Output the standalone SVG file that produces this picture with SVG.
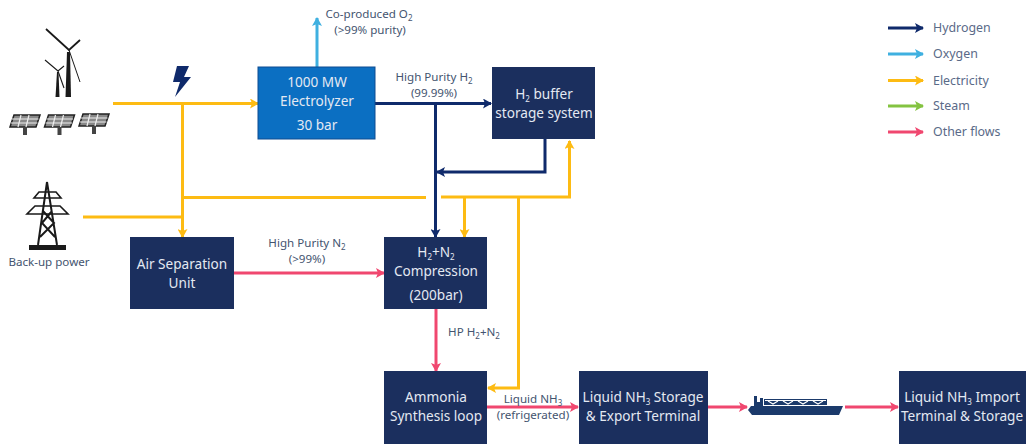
<svg xmlns="http://www.w3.org/2000/svg" width="1026" height="444" viewBox="0 0 1026 444">
<style>
text{font-family:"Noto Sans","Open Sans","Liberation Sans",sans-serif;text-anchor:middle}
.box{font-size:13.6px;fill:#e4e9f2}
.lab{font-size:11.6px;fill:#44546f}
.leg{font-size:12.4px;fill:#5a6a88;text-anchor:start}
.s{font-size:8px}
.c{fill:none;stroke-width:3}
.h{stroke:#0f2a6b;marker-end:url(#mh)}
.o{stroke:#3fb0e0;marker-end:url(#mo)}
.e{stroke:#fdbb13;marker-end:url(#me)}
.en{stroke:#fdbb13}
.g{stroke:#84c341;marker-end:url(#mg)}
.p{stroke:#f0476f;marker-end:url(#mp)}
.ic{fill:#1a1a1a}
.ln{stroke:#1a1a1a;fill:none}
</style>
<defs>
<marker id="mh" markerUnits="userSpaceOnUse" markerWidth="9" markerHeight="10" refX="8" refY="5" orient="auto"><path d="M0 0L9 5L0 10L2 5Z" fill="#0f2a6b"/></marker>
<marker id="mo" markerUnits="userSpaceOnUse" markerWidth="9" markerHeight="10" refX="8" refY="5" orient="auto"><path d="M0 0L9 5L0 10L2 5Z" fill="#3fb0e0"/></marker>
<marker id="me" markerUnits="userSpaceOnUse" markerWidth="9" markerHeight="10" refX="8" refY="5" orient="auto"><path d="M0 0L9 5L0 10L2 5Z" fill="#fdbb13"/></marker>
<marker id="mg" markerUnits="userSpaceOnUse" markerWidth="9" markerHeight="10" refX="8" refY="5" orient="auto"><path d="M0 0L9 5L0 10L2 5Z" fill="#84c341"/></marker>
<marker id="mp" markerUnits="userSpaceOnUse" markerWidth="9" markerHeight="10" refX="8" refY="5" orient="auto"><path d="M0 0L9 5L0 10L2 5Z" fill="#f0476f"/></marker>
<g id="panel"><path d="M4 0H30L26 12H0Z" fill="#888" stroke="#222" stroke-width="1.5"/><path d="M2 4H28.500M1 8H27.500M11 0L8 12M19 0L16 12" stroke="#eee" stroke-width="1.2"/><rect x="13" y="12" width="4" height="8" fill="#444"/></g>
</defs>

<g id="connectors">
<path class="c e" d="M113 103.500H258"/>
<path class="c e" d="M182.500 103.500V237"/>
<path class="c en" d="M83 217H182"/>
<path class="c en" d="M183 197.500H426"/>
<path class="c e" d="M441 197H569.500V141"/>
<path class="c e" d="M464.500 197V237"/>
<path class="c e" d="M518.500 197V388H488"/>
<path class="c o" d="M317 67V18"/>
<path class="c h" d="M375 103.500H491"/>
<path class="c h" d="M435.500 103.500V237"/>
<path class="c h" d="M545 139V172H437"/>
<path class="c p" d="M234 273H384"/>
<path class="c p" d="M436 309V371"/>
<path class="c p" d="M487 407H578"/>
<path class="c p" d="M708 407H747"/>
<path class="c p" d="M845 407H898"/>
</g>

<g id="wind-solar">
<path class="ic" d="M65.500 97L67 52H70L71 97Z"/>
<path class="ic" d="M55.500 97L57 72H58.500L59.500 97Z"/>
<path class="ln" stroke-width="1.8" d="M46 29L69 50L80 40"/>
<path class="ln" stroke-width="1" d="M69 50L80 82"/>
<path class="ln" stroke-width="1.1" d="M45 60L58 71L64 66M58 71L64 88"/>
<use href="#panel" x="10" y="115"/>
<use href="#panel" x="44.500" y="115"/>
<use href="#panel" x="79" y="114"/>
</g>
<g id="lightning"><path d="M177 66H189L184 77H191L175 97L180 82H173Z" fill="#0f2a6b"/></g>
<g id="pylon">
<rect x="29" y="245" width="37" height="5" fill="#1a1a1a"/>
<path class="ln" stroke-width="2" d="M47 182L38 245M47 182L57 245M43 211L54 223L40 237M52 211L42 223L55 237"/>
<path class="ln" stroke-width="1.6" d="M34 198H61L56 192H39ZM27 214H68L60 206H35Z"/>
<text class="lab" x="49" y="266">Back-up power</text>
</g>

<g id="electrolyzer"><rect x="258" y="67" width="117" height="72" fill="#0b6fc2" stroke="#0f4c91"/>
<text class="box" x="317" y="87">1000 MW</text><text class="box" x="317" y="106">Electrolyzer</text><text class="box" x="317" y="130">30 bar</text></g>
<g id="buffer"><rect x="492" y="67" width="103" height="72" fill="#1b2f5e"/>
<text class="box" x="544" y="99">H<tspan class="s" dy="3">2</tspan><tspan dy="-3"> buffer</tspan></text><text class="box" x="544" y="118">storage system</text></g>
<g id="asu"><rect x="130" y="237" width="104" height="72" fill="#1b2f5e"/>
<text class="box" x="182" y="269">Air Separation</text><text class="box" x="182" y="288">Unit</text></g>
<g id="compression"><rect x="384" y="237" width="103" height="72" fill="#1b2f5e"/>
<text class="box" x="436" y="257">H<tspan class="s" dy="3">2</tspan><tspan dy="-3">+N</tspan><tspan class="s" dy="3">2</tspan></text><text class="box" x="436" y="276">Compression</text><text class="box" x="436" y="300">(200bar)</text></g>
<g id="ammonia"><rect x="384" y="371" width="103" height="73" fill="#1b2f5e"/>
<text class="box" x="436" y="402">Ammonia</text><text class="box" x="436" y="421">Synthesis loop</text></g>
<g id="export"><rect x="579" y="371" width="129" height="73" fill="#1b2f5e"/>
<text class="box" x="643" y="402">Liquid NH<tspan class="s" dy="3">3</tspan><tspan dy="-3"> Storage</tspan></text><text class="box" x="643" y="421">&amp; Export Terminal</text></g>
<g id="import"><rect x="899" y="371" width="127" height="73" fill="#1b2f5e"/>
<text class="box" x="962" y="402">Liquid NH<tspan class="s" dy="3">3</tspan><tspan dy="-3"> Import</tspan></text><text class="box" x="962" y="421">Terminal &amp; Storage</text></g>

<g id="ship">
<path d="M751 406H754V396H757V402H760V398H763V406H843L839 415H752L748 410Z" fill="#1b3a6b"/>
<path d="M764 399H827V405H764Z" fill="#1b3a6b"/>
<path d="M765 400.500H826M768 401L773 404L778 401M783 401L788 404L793 401M798 401L803 404L808 401M813 401L818 404L823 401" stroke="#fff" stroke-width="1.1" fill="none"/>
</g>

<g id="labels">
<text class="lab" x="369" y="18">Co-produced  O<tspan class="s" dy="3">2</tspan></text>
<text class="lab" x="370" y="34">(&gt;99% purity)</text>
<text class="lab" x="434" y="81">High Purity  H<tspan class="s" dy="3">2</tspan></text>
<text class="lab" x="434" y="97">(99.99%)</text>
<text class="lab" x="307" y="247">High Purity  N<tspan class="s" dy="3">2</tspan></text>
<text class="lab" x="307" y="263">(&gt;99%)</text>
<text class="lab" x="474" y="336">HP H<tspan class="s" dy="3">2</tspan><tspan dy="-3">+N</tspan><tspan class="s" dy="3">2</tspan></text>
<text class="lab" x="533" y="403">Liquid NH<tspan class="s" dy="3">3</tspan></text>
<text class="lab" x="533" y="419">(refrigerated)</text>
</g>

<g id="legend">
<path class="c h" d="M888 28H923"/><path class="c o" d="M888 54H923"/><path class="c e" d="M888 80.500H923"/><path class="c g" d="M888 106H923"/><path class="c p" d="M888 132H923"/>
<text class="leg" x="933" y="32">Hydrogen</text>
<text class="leg" x="933" y="58">Oxygen</text>
<text class="leg" x="933" y="85">Electricity</text>
<text class="leg" x="933" y="110">Steam</text>
<text class="leg" x="933" y="136">Other flows</text>
</g>
</svg>
